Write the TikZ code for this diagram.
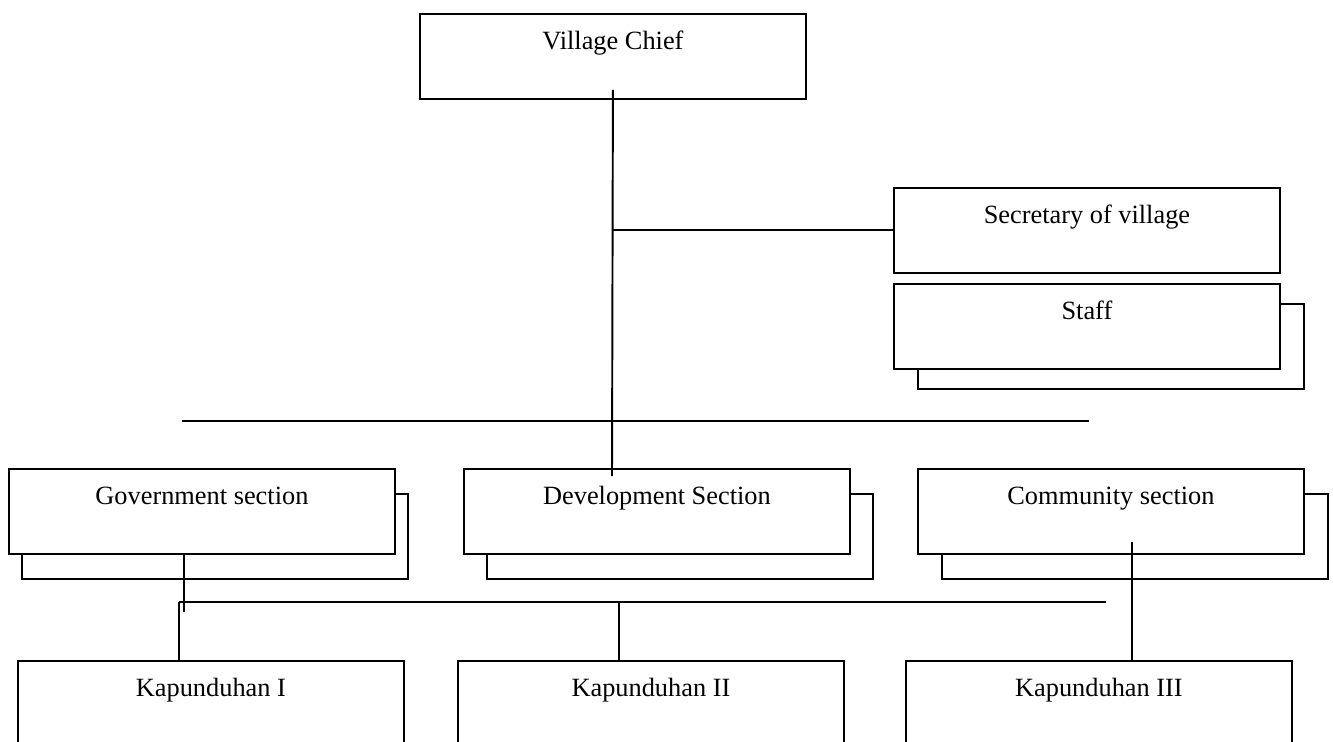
\documentclass[tikz,border=0pt]{standalone}
\usepackage{fontspec}
\setmainfont{Liberation Serif}
\usetikzlibrary{calc}

\begin{document}
\begin{tikzpicture}[x=0.02cm,y=-0.02cm]
                    \tikzset{unit/.style={draw,line width=1.1pt,fill=white,rectangle,anchor=north west,minimum width=7.72cm,inner xsep=0pt,inner ysep=0pt,text height=0.72cm,text depth=0.98cm,font=\fontsize{15}{18}\selectfont}}
                    \tikzset{link/.style={line width=1.1pt}}
                    \fill[white] (0,0) rectangle (1333,741);
                    \useasboundingbox (0,0) rectangle (1333,741);
                    \node[unit] (chief) at (419,13) {Village Chief};
                    \node[unit] (sec) at (893,187) {Secretary of village};
                    \node[unit] (staffback) at (917,303) {};
                    \node[unit] (staff) at (893,283) {Staff};
                    \node[unit] (govback) at (21,493) {};
                    \node[unit] (gov) at (8,468) {Government section};
                    \node[unit] (devback) at (486,493) {};
                    \node[unit] (dev) at (463,468) {Development Section};
                    \node[unit] (comback) at (941,493) {};
                    \node[unit] (com) at (917,468) {Community section};
                    \node[unit] (kap1) at (17,660) {Kapunduhan I};
                    \node[unit] (kap2) at (457,660) {Kapunduhan II};
                    \node[unit] (kap3) at (905,660) {Kapunduhan III};
                    \coordinate (trunk) at ($(chief.south)+(0,-10)$);
                    \coordinate (trunkend) at (612,476);
                    \draw[link] (trunk) -- (trunkend);
                    \draw[link] (trunk |- sec.west) -- (sec.west);
                    \coordinate (busleft) at (182,421);
                    \coordinate (busright) at (1089,421);
                    \draw[link] (busleft) -- (busright);
                    \coordinate (govdrop) at (184,553);
                    \coordinate (govend) at (184,612);
                    \draw[link] (govdrop) -- (govend);
                    \coordinate (kapleft) at (179,602);
                    \coordinate (kapright) at (1106,602);
                    \draw[link] (kapleft) -- (kapright);
                    \draw[link] (kapleft) -- (kapleft |- kap1.north);
                    \coordinate (kapmid) at (619,602);
                    \draw[link] (kapmid) -- (kapmid |- kap2.north);
                    \coordinate (comdrop) at (1132,542);
                    \draw[link] (comdrop) -- (comdrop |- kap3.north);
                \end{tikzpicture}
\end{document}
